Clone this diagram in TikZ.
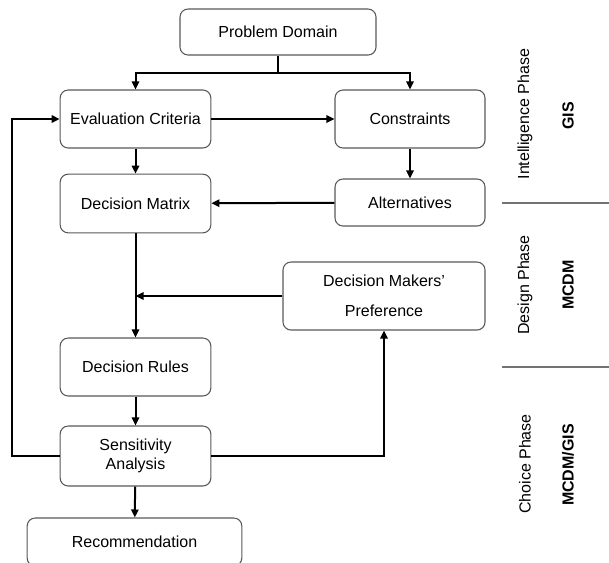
\documentclass[tikz,border=0pt]{standalone}
\usepackage{fontspec}
\setmainfont{Liberation Sans}
\usetikzlibrary{arrows.meta}

\begin{document}
\begin{tikzpicture}[x=0.75pt,y=-0.75pt,
	box/.style={shape=rectangle,rounded corners=6pt,draw=black!65,line width=0.8pt,
		fill=white,inner sep=0pt,align=center,font=\fontsize{12}{14.25}\selectfont},
	conn/.style={line width=1.5pt,-{Triangle[length=6pt,width=5.5pt]}},
	line/.style={line width=1.5pt},
	sep/.style={draw=black!55,line width=1.5pt},
	phase/.style={rotate=90,font=\fontsize{12}{14}\selectfont},
	tool/.style={rotate=90,font=\fontsize{12}{14}\selectfont\bfseries}]
	\useasboundingbox (0,0) rectangle (609,562);

	\node[box,minimum width=147pt,minimum height=34.5pt] (prob) at (278, 32)    {Problem Domain};
	\node[box,minimum width=113pt,minimum height=43.5pt] (eval) at (135.5, 119) {Evaluation Criteria};
	\node[box,minimum width=112.5pt,minimum height=43.5pt] (cons) at (410, 119) {Constraints};
	\node[box,minimum width=113pt,minimum height=44pt] (mat) at (135.5, 203.5)  {Decision Matrix};
	\node[box,minimum width=112.5pt,minimum height=35.25pt] (alt) at (410, 202.5) {Alternatives};
	\node[box,minimum width=151.5pt,minimum height=51pt,
		font=\fontsize{12}{22.5}\selectfont] (pref) at (384, 296) {Decision Makers'\\Preference};
	\node[box,minimum width=113pt,minimum height=43.5pt] (rules) at (135.5, 367) {Decision Rules};
	\node[box,minimum width=113pt,minimum height=45pt] (sens) at (135.5, 456)   {Sensitivity\\Analysis};
	\node[box,minimum width=161pt,minimum height=36pt] (rec) at (134.5, 542)    {Recommendation};

	\coordinate (split) at (278, 73);
	\coordinate (merge) at (135.5, 296);
	\coordinate (back)  at (12, 456);

	\draw[line] (prob) -- (split);
	\draw[conn] (split) -| (eval.north);
	\draw[conn] (split) -| (cons.north);
	\draw[conn] (eval) -- (mat);
	\draw[conn] (eval) -- (cons);
	\draw[conn] (cons) -- (alt);
	\draw[conn] (alt) -- (mat);
	\draw[conn] (mat) -- (rules);
	\draw[conn] (pref) -- (merge);
	\draw[conn] (rules) -- (sens);
	\draw[conn] (sens) -- (rec);
	\draw[conn] (sens.west) -- (back) |- (eval.west);
	\draw[conn] (sens.east) -| (pref.south);

	% phases
	\draw[sep] (502, 203) -- (609, 203);
	\draw[sep] (502, 367) -- (609, 367);
	\node[phase] (intel)  at (525, 114) {Intelligence Phase};
	\node[tool]  (gis)    at (568, 116) {GIS};
	\node[phase] (design) at (525, 285) {Design Phase};
	\node[tool]  (mcdm)   at (568, 285) {MCDM};
	\node[phase] (choice) at (525, 464) {Choice Phase};
	\node[tool]  (both)   at (568, 465) {MCDM/GIS};
\end{tikzpicture}
\end{document}
